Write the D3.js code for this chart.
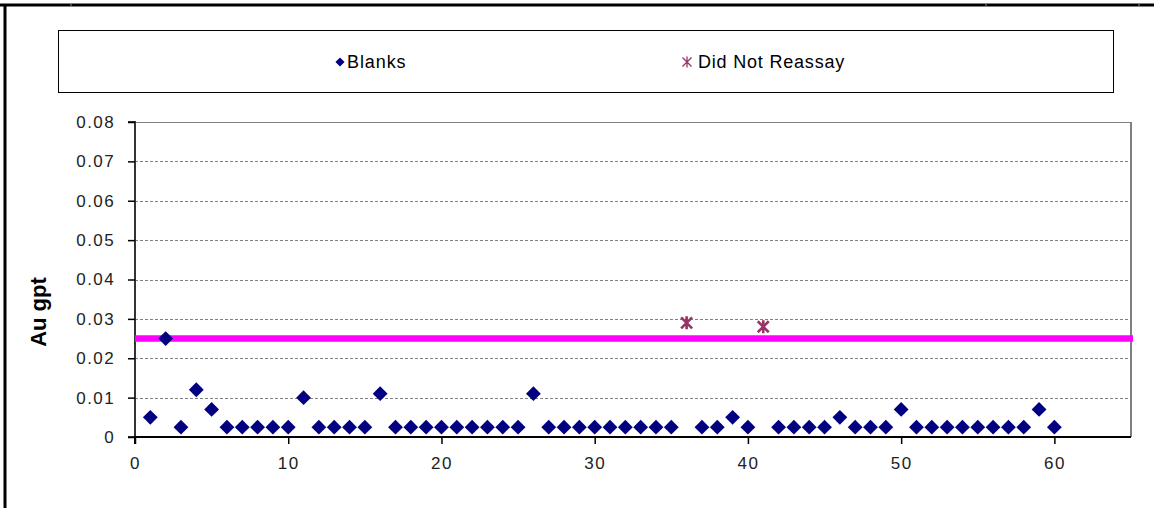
<!DOCTYPE html>
<html>
<head>
<meta charset="utf-8">
<script src="https://cdn.jsdelivr.net/npm/d3@7"></script>
<style>
  html, body { margin: 0; padding: 0; background: #fff; }
  svg { display: block; font-family: "Liberation Sans", Arial, sans-serif; }
</style>
</head>
<body>
<svg id="chart" width="1154" height="508"></svg>
<script>
// ---- data ----
const blankX = [1,2,3,4,5,6,7,8,9,10,11,12,13,14,15,16,17,18,19,20,21,22,23,24,25,26,27,28,29,30,31,32,33,34,35,37,38,39,40,42,43,44,45,46,47,48,49,50,51,52,53,54,55,56,57,58,59,60];
const blankY = [0.005,0.025,0.0025,0.012,0.007,0.0025,0.0025,0.0025,0.0025,0.0025,0.010,0.0025,0.0025,0.0025,0.0025,0.011,0.0025,0.0025,0.0025,0.0025,0.0025,0.0025,0.0025,0.0025,0.0025,0.011,0.0025,0.0025,0.0025,0.0025,0.0025,0.0025,0.0025,0.0025,0.0025,0.0025,0.0025,0.005,0.0025,0.0025,0.0025,0.0025,0.0025,0.005,0.0025,0.0025,0.0025,0.007,0.0025,0.0025,0.0025,0.0025,0.0025,0.0025,0.0025,0.0025,0.007,0.0025];
const dnrX = [36, 41];
const dnrY = [0.029, 0.028];
const limitValue = 0.025;
const xTicks = [0,10,20,30,40,50,60];
const yTicks = [0,0.01,0.02,0.03,0.04,0.05,0.06,0.07,0.08];
const seriesNames = ["Blanks", "Did Not Reassay"];
const yLabel = "Au gpt";

// ---- layout ----
const svg = d3.select("#chart");
const L = 135, R = 1131, T = 122, B = 437;
const x = d3.scaleLinear().domain([0, 65]).range([L, R]);
const y = d3.scaleLinear().domain([0, 0.08]).range([B, T]);

// outer frame (cropped chart object border)
svg.append("line").attr("x1", 0).attr("x2", 1154).attr("y1", 5).attr("y2", 5)
  .attr("stroke", "#000").attr("stroke-width", 3);
svg.append("line").attr("x1", 5).attr("x2", 5).attr("y1", 4).attr("y2", 508)
  .attr("stroke", "#000").attr("stroke-width", 3);
[71, 986, 1139].forEach(px => {
  svg.append("line").attr("x1", px).attr("x2", px).attr("y1", 3).attr("y2", 7)
    .attr("stroke", "#888").attr("stroke-width", 1);
});

// legend box
svg.append("rect").attr("x", 58.5).attr("y", 30.5).attr("width", 1055).attr("height", 62)
  .attr("fill", "#fff").attr("stroke", "#000").attr("stroke-width", 1);
const diamond = d3.symbol().type(d3.symbolSquare);
const starPath = s => {
  const h = s / 2;
  return `M${-h},${-h}L${h},${h}M${-h},${h}L${h},${-h}M0,${-h - 1}L0,${h + 1}`;
};
const lg = svg.append("g");
lg.append("path").attr("d", diamond.size(42)()).attr("transform", "translate(340,62) rotate(45)")
  .attr("fill", "#000080");
lg.append("text").attr("x", 347).attr("y", 68).attr("font-size", 18).attr("letter-spacing", 0.9).attr("fill", "#000")
  .text(seriesNames[0]);
lg.append("path").attr("d", starPath(9)).attr("transform", "translate(687,62)")
  .attr("stroke", "#993366").attr("stroke-width", 1.3).attr("fill", "none");
lg.append("text").attr("x", 698).attr("y", 68).attr("font-size", 18).attr("letter-spacing", 0.8).attr("fill", "#000")
  .text(seriesNames[1]);

// plot area gridlines
svg.append("g").selectAll("line").data(yTicks.filter(v => v > 0 && v < 0.08)).join("line")
  .attr("x1", L).attr("x2", R).attr("y1", d => Math.round(y(d)) + 0.5).attr("y2", d => Math.round(y(d)) + 0.5)
  .attr("stroke", "#808080").attr("stroke-width", 1).attr("stroke-dasharray", "3,2");

// plot border top/right
svg.append("line").attr("x1", L).attr("x2", R).attr("y1", T + 0.5).attr("y2", T + 0.5)
  .attr("stroke", "#808080").attr("stroke-width", 1);
svg.append("line").attr("x1", R).attr("x2", R).attr("y1", T).attr("y2", B)
  .attr("stroke", "#808080").attr("stroke-width", 2);

// axes
const yAxis = d3.axisLeft(y).tickValues(yTicks).tickSize(7).tickPadding(13)
  .tickFormat(d => d === 0 ? "0" : d3.format(".2f")(d));
const gy = svg.append("g").attr("transform", `translate(${L},0)`).call(yAxis);
const xAxis = d3.axisBottom(x).tickValues(xTicks).tickSize(7).tickPadding(13).tickFormat(d3.format("d"));
const gx = svg.append("g").attr("transform", `translate(0,${B})`).call(xAxis);
[gy, gx].forEach(g => {
  g.select(".domain").attr("stroke", "#000").attr("stroke-width", 2);
  g.selectAll(".tick line").attr("stroke", "#000").attr("stroke-width", 1.5);
  g.selectAll(".tick text").attr("font-size", 17).attr("letter-spacing", 1.4).attr("fill", "#222")
    .attr("font-family", "Liberation Sans, Arial, sans-serif");
});
gy.select(".domain").attr("d", `M-7,${T}H0V${B}H-7`).attr("stroke", "#333");
gx.select(".domain").attr("d", `M${L},7V0H${R}`);

// y label
svg.append("text").attr("transform", `translate(46,312) rotate(-90)`)
  .attr("text-anchor", "middle").attr("font-size", 22).attr("font-weight", "bold").attr("fill", "#000")
  .text(yLabel);

// limit line
svg.append("line").attr("x1", x(0)).attr("x2", R + 2).attr("y1", y(limitValue)).attr("y2", y(limitValue))
  .attr("stroke", "#FF00FF").attr("stroke-width", 6.5);

// blanks
svg.append("g").selectAll("path").data(blankX.map((v, i) => [v, blankY[i]])).join("path")
  .attr("d", diamond.size(110)())
  .attr("transform", d => `translate(${x(d[0])},${y(d[1])}) rotate(45)`)
  .attr("fill", "#000080");

// did not reassay
svg.append("g").selectAll("path").data(dnrX.map((v, i) => [v, dnrY[i]])).join("path")
  .attr("d", starPath(11))
  .attr("transform", d => `translate(${x(d[0])},${y(d[1])})`)
  .attr("stroke", "#993366").attr("stroke-width", 2.6).attr("fill", "none");
</script>
</body>
</html>
